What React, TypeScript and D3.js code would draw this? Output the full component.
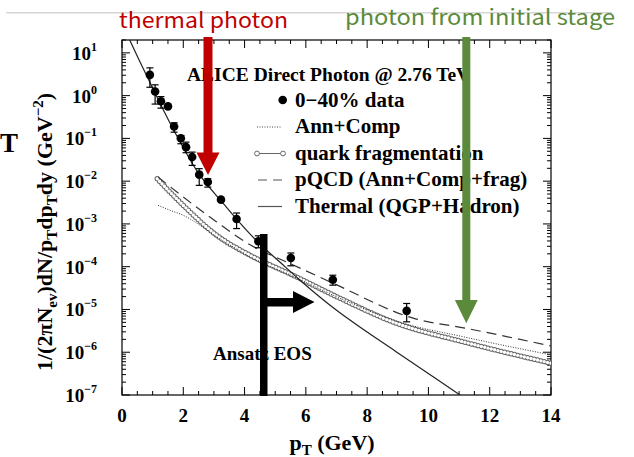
import React from 'react';
import * as d3 from 'd3';

const W = 634;
const H = 457;

// ALICE 0-40% direct photon points
const dataPt = [0.91, 1.08, 1.27, 1.5, 1.7, 1.92, 2.09, 2.29, 2.52, 2.8, 3.23, 3.74, 4.45, 5.51, 6.88, 9.29];
const dataVal = [3.06, 1.25, 0.74, 0.56, 0.19, 0.101, 0.0625, 0.0366, 0.0142, 0.00953, 0.0037, 0.0013, 3.94e-4, 1.6e-4, 4.97e-5, 9.29e-6];
const dataHi = [4.46, 1.79, 0.95, 0.56, 0.232, 0.117, 0.0818, 0.0478, 0.0196, 0.01143, 0.0037, 0.0018, 5.28e-4, 2.09e-4, 6.32e-5, 1.38e-5];
const dataLo = [1.57, 0.635, 0.51, 0.56, 0.14, 0.075, 0.0463, 0.0234, 0.00798, 0.00727, 0.0037, 0.00078, 2.77e-4, 1.05e-4, 3.7e-5, 5.14e-6];

// model curves
const thermalPt = [0.15, 0.26, 0.85, 1.66, 2.48, 3.36, 3.74, 4.44, 5.16, 5.81, 6.79, 7.44, 8.91, 11.03, 11.6];
const thermalVal = [29, 19.4, 2.51, 0.171, 0.016, 0.00272, 0.0013, 3.73e-4, 1.27e-4, 4.83e-5, 1.26e-5, 5.64e-6, 1.07e-6, 1e-7, 5.2e-8];

const fragPt = [1.15, 2.0, 3.09, 4.18, 5.58, 7.02, 8.97, 11.14, 14.02];
const fragVal = [0.0114, 0.00272, 5.43e-4, 1.85e-4, 6.33e-5, 1.97e-5, 4.72e-6, 1.75e-6, 5.5e-7];

const pqcdPt = [1.18, 2.0, 3.09, 4.18, 5.48, 6.89, 9.5, 11.25, 14.02];
const pqcdVal = [0.01247, 0.00426, 0.00111, 3.26e-4, 1.19e-4, 4.11e-5, 6.27e-6, 3.6e-6, 1.39e-6];

const annPt = [1.18, 1.57, 2.0, 2.55, 3.09, 3.63, 4.18, 5.58, 7.02, 8.97, 11.14, 14.02];
const annVal = [0.00272, 0.00208, 0.00159, 9.3e-4, 4.95e-4, 2.9e-4, 1.69e-4, 6.0e-5, 1.95e-5, 5.3e-6, 2.3e-6, 8.6e-7];

const xTickLabels = [0, 2, 4, 6, 8, 10, 12, 14];
const yExponents = [1, 0, -1, -2, -3, -4, -5, -6, -7];

const legendLabels = ['0\u221240% data', 'Ann+Comp', 'quark fragmentation', 'pQCD (Ann+Comp+frag)', 'Thermal (QGP+Hadron)'];

const serif = '"Liberation Serif", "Times New Roman", serif';
const jp = '"Noto Sans CJK JP", "Noto Sans", sans-serif';

const L = 122, R = 551, T = 40, B = 395;

export default function App() {
  const x = d3.scaleLinear().domain([0, 14]).range([L, R]);
  const y = d3.scaleLog().domain([1e-7, 20]).range([B, T]);

  const line = d3.line<[number, number]>()
    .x(d => x(d[0]))
    .y(d => y(d[1]))
    .curve(d3.curveMonotoneX);

  const thermalPath = line(thermalPt.map((p, i) => [p, thermalVal[i]]));
  const fragPath = line(fragPt.map((p, i) => [p, fragVal[i]]));
  const pqcdPath = line(pqcdPt.map((p, i) => [p, pqcdVal[i]]));
  const annPath = line(annPt.map((p, i) => [p, annVal[i]]));

  // ticks
  const xTicks = d3.range(0, 14.001, 0.5);
  const yTicks: { v: number; major: boolean }[] = [];
  for (let e = -7; e <= 1; e++) {
    for (let m = 1; m <= 9; m++) {
      const v = m * Math.pow(10, e);
      if (v <= 20.0001) yTicks.push({ v, major: m === 1 });
    }
  }

  const legY = (i: number) => 106.5 + i * 26.5;

  return (
    <svg width={W} height={H} style={{ position: 'absolute', left: 0, top: 0, background: '#fff' }}>
      <defs>
        <clipPath id="plot">
          <rect x={L} y={T} width={R - L} height={B - T} />
        </clipPath>
      </defs>
      <rect width={W} height={H} fill="#fff" />
      <line x1={6} x2={612} y1={12.7} y2={12.7} stroke="#d6d6d6" strokeWidth={1.4} />

      {/* letter at left edge of the slide */}
      <text x={0} y={152} fontFamily={serif} fontWeight="bold" fontSize={27}>T</text>

      {/* frame */}
      <rect x={L} y={T} width={R - L} height={B - T} fill="none" stroke="#000" strokeWidth={1.2} />
      {xTicks.map(t => {
        const len = t % 2 === 0 ? 8 : 4;
        return (
          <g key={'xt' + t}>
            <line x1={x(t)} x2={x(t)} y1={B} y2={B - len} stroke="#000" strokeWidth={1} />
            <line x1={x(t)} x2={x(t)} y1={T} y2={T + len} stroke="#000" strokeWidth={1} />
          </g>
        );
      })}
      {yTicks.map(({ v, major }) => {
        const len = major ? 8 : 4;
        return (
          <g key={'yt' + v}>
            <line x1={L} x2={L + len} y1={y(v)} y2={y(v)} stroke="#000" strokeWidth={1} />
            <line x1={R} x2={R - len} y1={y(v)} y2={y(v)} stroke="#000" strokeWidth={1} />
          </g>
        );
      })}

      {/* tick labels */}
      {xTickLabels.map(t => (
        <text key={'xl' + t} x={x(t)} y={422} textAnchor="middle" fontFamily={serif} fontWeight="bold" fontSize={19}>{t}</text>
      ))}
      {yExponents.map(e => (
        <text key={'yl' + e} x={97} y={y(Math.pow(10, e)) + 7} textAnchor="end" fontFamily={serif} fontWeight="bold" fontSize={19}>
          10<tspan dy={-9} fontSize={12}>{e < 0 ? '\u2212' + -e : String(e)}</tspan>
        </text>
      ))}

      {/* axis titles */}
      <text x={332} y={450} textAnchor="middle" fontFamily={serif} fontWeight="bold" fontSize={22}>
        p<tspan dy={5} fontSize={15}>T</tspan><tspan dy={-5}> (GeV)</tspan>
      </text>
      <text transform="translate(52,232) rotate(-90)" textAnchor="middle" fontFamily={serif} fontWeight="bold" fontSize={22}>
        1/(2πN<tspan dy={5} fontSize={15}>ev</tspan><tspan dy={-5}>)dN/p</tspan><tspan dy={5} fontSize={15}>T</tspan><tspan dy={-5}>dp</tspan><tspan dy={5} fontSize={15}>T</tspan><tspan dy={-5}>dy (GeV</tspan><tspan dy={-9} fontSize={15}>{'\u22122'}</tspan><tspan dy={9}>)</tspan>
      </text>

      {/* title and legend */}
      <text x={187} y={81} fontFamily={serif} fontWeight="bold" fontSize={19.5}>ALICE Direct Photon @ 2.76 TeV</text>
      {legendLabels.map((lab, i) => (
        <text key={lab} x={295} y={legY(i)} fontFamily={serif} fontWeight="bold" fontSize={21}>{lab}</text>
      ))}
      <circle cx={282.7} cy={legY(0) - 6.5} r={4.3} fill="#000" />
      <line x1={257} x2={282} y1={legY(1) - 6} y2={legY(1) - 6} stroke="#444" strokeWidth={1} strokeDasharray="1 1.5" />
      <line x1={257} x2={283} y1={legY(2) - 6} y2={legY(2) - 6} stroke="#666" strokeWidth={1} />
      <circle cx={257} cy={legY(2) - 6} r={2.4} fill="#fff" stroke="#666" strokeWidth={1} />
      <circle cx={283} cy={legY(2) - 6} r={2.4} fill="#fff" stroke="#666" strokeWidth={1} />
      <line x1={258} x2={282} y1={legY(3) - 6} y2={legY(3) - 6} stroke="#555" strokeWidth={1.2} strokeDasharray="9 6" />
      <line x1={258} x2={282} y1={legY(4) - 6} y2={legY(4) - 6} stroke="#555" strokeWidth={1.2} />

      {/* curves */}
      <g clipPath="url(#plot)" fill="none">
        <path d={fragPath || ''} stroke="#666" strokeWidth={5.4} strokeDasharray="0 3.4" strokeLinecap="round" />
        <path d={fragPath || ''} stroke="#fff" strokeWidth={3.4} strokeDasharray="0 3.4" strokeLinecap="round" />
        <path d={annPath || ''} stroke="#333" strokeWidth={1} strokeDasharray="1 1.5" />
        <path d={pqcdPath || ''} stroke="#333" strokeWidth={1.2} strokeDasharray="10 6" />
        <path d={thermalPath || ''} stroke="#222" strokeWidth={1.2} />
      </g>

      {/* data points */}
      {dataPt.map((p, i) => (
        <g key={'d' + i} stroke="#000" strokeWidth={1.2}>
          <line x1={x(p)} x2={x(p)} y1={y(dataHi[i])} y2={y(dataLo[i])} />
          <line x1={x(p) - 3.5} x2={x(p) + 3.5} y1={y(dataHi[i])} y2={y(dataHi[i])} />
          <line x1={x(p) - 3.5} x2={x(p) + 3.5} y1={y(dataLo[i])} y2={y(dataLo[i])} />
          <circle cx={x(p)} cy={y(dataVal[i])} r={4.3} fill="#000" stroke="none" />
        </g>
      ))}

      {/* Ansatz EOS annotation */}
      <text x={213} y={360} fontFamily={serif} fontWeight="bold" fontSize={19}>Ansatz EOS</text>
      <rect x={260} y={234} width={7.5} height={162} fill="#000" />
      <polygon points="267,298 293,298 293,291 314.5,302 293,313 293,306.5 267,306.5" fill="#000" />

      {/* overlay arrows and labels */}
      <text x={119} y={28} fontFamily={jp} fontSize={21} fill="#c00000" textLength={169} lengthAdjust="spacingAndGlyphs">thermal photon</text>
      <polygon points="203.5,37 212.5,37 212.5,152.5 219.5,152.5 208,175 196.5,152.5 203.5,152.5" fill="#c00000" />
      <text x={345} y={25} fontFamily={jp} fontSize={21} fill="#5a8a3a" textLength={270} lengthAdjust="spacingAndGlyphs">photon from initial stage</text>
      <polygon points="462.3,37 470.3,37 470.3,300 477.7,300 466.3,323.3 454.9,300 462.3,300" fill="#5a8a3a" />
    </svg>
  );
}
